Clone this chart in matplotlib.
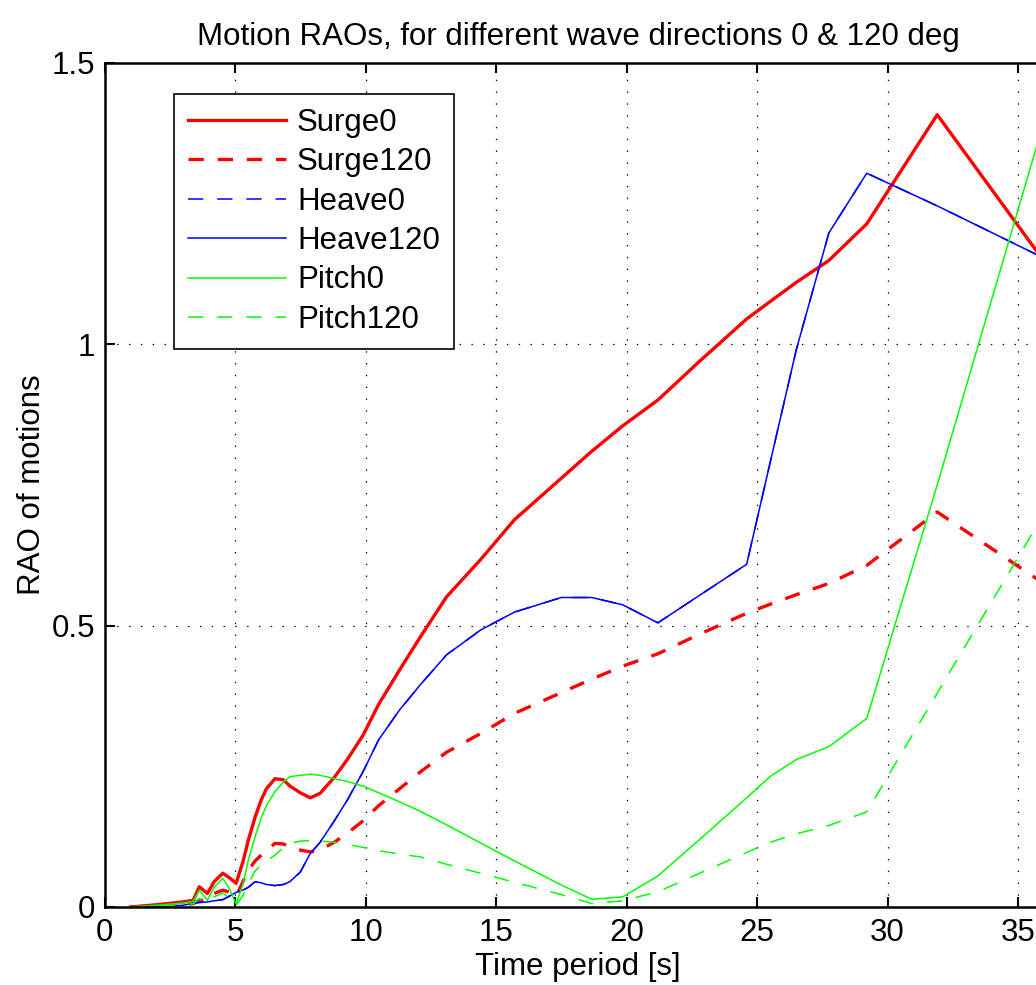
import matplotlib
matplotlib.use('Agg')
import matplotlib.pyplot as plt

plt.rcParams['font.family'] = ['Liberation Sans', 'DejaVu Sans']
plt.rcParams['lines.scale_dashes'] = False

# wave period [s]
period = [1.0, 2.0, 3.0, 3.4, 3.63, 3.94, 4.2, 4.53, 4.81, 5.04, 5.3, 5.51, 5.77, 6.0,
          6.2, 6.53, 6.85, 7.1, 7.5, 7.88, 8.26, 8.83, 9.3, 9.9, 10.5, 11.3, 12.1, 13.1,
          14.4, 15.7, 17.5, 18.67, 19.85, 21.2, 22.8, 24.6, 25.5, 26.5, 27.75, 29.2,
          31.9, 36.3]

surge0 = [0.0, 0.004, 0.009, 0.012, 0.036, 0.024, 0.045, 0.060, 0.051, 0.042, 0.08, 0.119,
          0.16, 0.19, 0.21, 0.228, 0.226, 0.215, 0.203, 0.194, 0.202, 0.232, 0.262, 0.305,
          0.36, 0.421, 0.48, 0.551, 0.617, 0.688, 0.762, 0.81, 0.855, 0.901, 0.97, 1.045,
          1.076, 1.11, 1.149, 1.214, 1.408, 1.128]
surge120 = [0.0, 0.002, 0.004, 0.006, 0.012, 0.012, 0.024, 0.030, 0.026, 0.018, 0.045, 0.065,
            0.082, 0.092, 0.10, 0.113, 0.112, 0.107, 0.101, 0.098, 0.101, 0.116, 0.131, 0.153,
            0.18, 0.21, 0.24, 0.275, 0.308, 0.344, 0.381, 0.405, 0.428, 0.45, 0.485, 0.522,
            0.538, 0.555, 0.575, 0.607, 0.702, 0.565]
heave0 = [0.0, 0.001, 0.003, 0.0066, 0.008, 0.009, 0.011, 0.013, 0.02, 0.026, 0.03, 0.035,
          0.045, 0.043, 0.04, 0.038, 0.04, 0.045, 0.062, 0.095, 0.115, 0.155, 0.19, 0.24,
          0.297, 0.35, 0.395, 0.448, 0.492, 0.524, 0.55, 0.55, 0.537, 0.505, 0.554, 0.609,
          0.79, 0.99, 1.198, 1.304, 1.246, 1.146]
heave120 = [0.0, 0.001, 0.003, 0.0066, 0.008, 0.009, 0.011, 0.013, 0.02, 0.026, 0.03, 0.035,
            0.045, 0.043, 0.04, 0.038, 0.04, 0.045, 0.062, 0.095, 0.115, 0.155, 0.19, 0.24,
            0.297, 0.35, 0.395, 0.448, 0.492, 0.524, 0.55, 0.55, 0.537, 0.505, 0.554, 0.609,
            0.79, 0.99, 1.198, 1.304, 1.246, 1.146]
pitch0 = [0.0, 0.003, 0.007, 0.01, 0.030, 0.012, 0.035, 0.051, 0.03, 0.005, 0.04, 0.0835,
          0.125, 0.158, 0.18, 0.205, 0.222, 0.2316, 0.234, 0.236, 0.234, 0.228, 0.223, 0.215,
          0.203, 0.187, 0.17, 0.146, 0.114, 0.082, 0.039, 0.0137, 0.018, 0.055, 0.12, 0.194,
          0.232, 0.262, 0.285, 0.335, 0.75, 1.445]
pitch120 = [0.0, 0.002, 0.004, 0.006, 0.015, 0.008, 0.018, 0.025, 0.015, 0.003, 0.02, 0.042,
            0.064, 0.075, 0.082, 0.092, 0.105, 0.113, 0.117, 0.118, 0.117, 0.115, 0.111, 0.106,
            0.10, 0.094, 0.089, 0.076, 0.06, 0.044, 0.022, 0.006, 0.011, 0.027, 0.06, 0.097,
            0.115, 0.13, 0.145, 0.169, 0.38, 0.723]

fs = 22.5
fig = plt.figure(figsize=(10.36, 9.85), dpi=100)
ax = fig.add_axes([0.1009, 0.0792, 0.9146, 0.8569])

dash = (0, (11, 10))
ax.plot(period, surge0, color='#ff0000', lw=2.4, label='Surge0')
ax.plot(period, surge120, color='#ff0000', lw=2.4, ls=dash, label='Surge120')
ax.plot(period, heave0, color='#0000ff', lw=1.1, ls=dash, label='Heave0')
ax.plot(period, heave120, color='#0000ff', lw=1.1, label='Heave120')
ax.plot(period, pitch0, color='#00ff00', lw=1.1, label='Pitch0')
ax.plot(period, pitch120, color='#00ff00', lw=1.1, ls=dash, label='Pitch120')

ax.set_xlim(0, 36.3)
ax.set_ylim(0, 1.5)
ax.set_xticks([0, 5, 10, 15, 20, 25, 30, 35])
ax.set_yticks([0, 0.5, 1, 1.5])
ax.set_yticklabels(['0', '0.5', '1', '1.5'])
ax.grid(True, color='black', ls=(0, (1, 7.5)), lw=0.9)
ax.tick_params(direction='in', length=7, width=1.5, labelsize=fs, top=True, right=True)
ax.tick_params(axis='x', pad=8)
ax.tick_params(axis='y', pad=7)
for s in ax.spines.values():
    s.set_linewidth(1.8)

ax.set_title('Motion RAOs, for different wave directions 0 & 120 deg', fontsize=fs, pad=13)
ax.set_xlabel('Time period [s]', fontsize=fs, labelpad=3)
ax.set_ylabel('RAO of motions', fontsize=fs, labelpad=3)

leg = ax.legend(loc='upper left', bbox_to_anchor=(0.0733, 0.9633), borderaxespad=0,
                fontsize=fs, handlelength=3.14, handletextpad=0.35, labelspacing=0.3,
                borderpad=0.45, fancybox=False, framealpha=1, edgecolor='black')
leg.get_frame().set_linewidth(1.2)

fig.savefig('out.png', dpi=100)
